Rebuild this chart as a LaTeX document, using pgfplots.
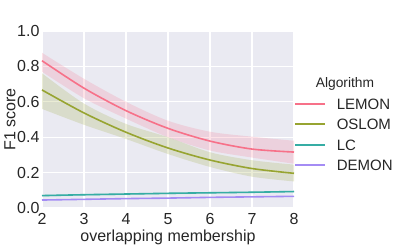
\documentclass[border=0pt]{standalone}
\usepackage{pgfplots}
\pgfplotsset{compat=1.18}
\usepgfplotslibrary{fillbetween}
\usepackage{fontspec}
\setmainfont{Liberation Sans}
\definecolor{bg}{HTML}{EAEAF2}
\definecolor{txt}{HTML}{262626}
\definecolor{clemon}{HTML}{F77189}
\definecolor{coslom}{HTML}{97A431}
\definecolor{clc}{HTML}{36ADA4}
\definecolor{cdemon}{HTML}{A48CF4}
\begin{document}
\begin{tikzpicture}
\begin{axis}[
  at={(0pt,0pt)}, anchor=south west,
  scale only axis, width=252pt, height=177pt,
  xmin=2, xmax=8, ymin=0, ymax=1,
  clip=false,
  xtick={2,3,4,5,6,7,8}, ytick={0,0.2,0.4,0.6,0.8,1.0},
  yticklabel style={/pgf/number format/fixed,/pgf/number format/fixed zerofill,/pgf/number format/precision=1},
  /pgf/number format/assume math mode=true,
  ticklabel style={font=\fontsize{16}{18}\selectfont, text=txt, inner sep=0pt},
  xticklabel style={yshift=-5pt, text depth=0pt},
  yticklabel style={xshift=-2.4pt},
  major tick length=0pt,
  axis line style={draw=none},
  axis background/.style={fill=bg},
  grid=major, grid style={white, line width=1.2pt},
  xlabel={overlapping membership}, ylabel={F1 score},
  label style={font=\fontsize{16}{18}\selectfont, text=txt, inner sep=0pt},
  xlabel style={at={(rel axis cs:0.5,0)}, anchor=base, yshift=-33pt},
  ylabel style={at={(rel axis cs:0,0.5)}, anchor=center, yshift=32pt},
  legend style={at={(rel axis cs:1,0.415)}, anchor=west, draw=none, fill=none,
    font=\fontsize{15}{17}\selectfont, text=txt, inner sep=0pt,
    nodes={inner sep=0pt, text height=10.5pt, text depth=0pt},
    row sep=10pt,
    /tikz/every odd column/.append style={column sep=11pt}},
  legend cell align=left,
  legend image code/.code={\draw[#1, line width=1.6pt] (3pt,0pt) -- (33pt,0pt);},
]
% LEMON band
\addplot[draw=none, smooth, name path=lu, forget plot] coordinates {(2,0.877) (3,0.73) (4,0.60) (5,0.493) (6,0.431) (7,0.403) (8,0.38)};
\addplot[draw=none, smooth, name path=ll, forget plot] coordinates {(2,0.77) (3,0.62) (4,0.505) (5,0.40) (6,0.325) (7,0.285) (8,0.25)};
\addplot[clemon, fill opacity=0.2, draw=none, forget plot] fill between[of=lu and ll];
% OSLOM band
\addplot[draw=none, smooth, name path=ou, forget plot] coordinates {(2,0.761) (3,0.59) (4,0.475) (5,0.40) (6,0.315) (7,0.27) (8,0.245)};
\addplot[draw=none, smooth, name path=ol, forget plot] coordinates {(2,0.56) (3,0.47) (4,0.39) (5,0.305) (6,0.232) (7,0.177) (8,0.15)};
\addplot[coslom, fill opacity=0.2, draw=none, forget plot] fill between[of=ou and ol];
% LC band
\addplot[draw=none, name path=cu, forget plot] coordinates {(2,0.075) (8,0.097)};
\addplot[draw=none, name path=cl, forget plot] coordinates {(2,0.065) (8,0.089)};
\addplot[clc, fill opacity=0.2, draw=none, forget plot] fill between[of=cu and cl];
% lines
\addplot[clemon, line width=1.6pt, smooth] coordinates {(2,0.832) (3,0.677) (4,0.550) (5,0.450) (6,0.378) (7,0.333) (8,0.316)};
\addlegendentry{LEMON}
\addplot[coslom, line width=1.6pt, smooth] coordinates {(2,0.667) (3,0.537) (4,0.428) (5,0.339) (6,0.271) (7,0.223) (8,0.196)};
\addlegendentry{OSLOM}
\addplot[clc, line width=1.6pt, smooth] coordinates {(2,0.070) (3,0.075) (4,0.079) (5,0.083) (6,0.086) (7,0.089) (8,0.093)};
\addlegendentry{LC}
\addplot[cdemon, line width=1.6pt, smooth] coordinates {(2,0.045) (3,0.049) (4,0.053) (5,0.056) (6,0.060) (7,0.063) (8,0.066)};
\addlegendentry{DEMON}
\node[anchor=base, font=\fontsize{13.8}{15}\selectfont, text=txt] at (rel axis cs:1.2024,0.682) {Algorithm};
\end{axis}
\path[use as bounding box] (-42pt,-41pt) rectangle (361pt,208pt);
\end{tikzpicture}
\end{document}
